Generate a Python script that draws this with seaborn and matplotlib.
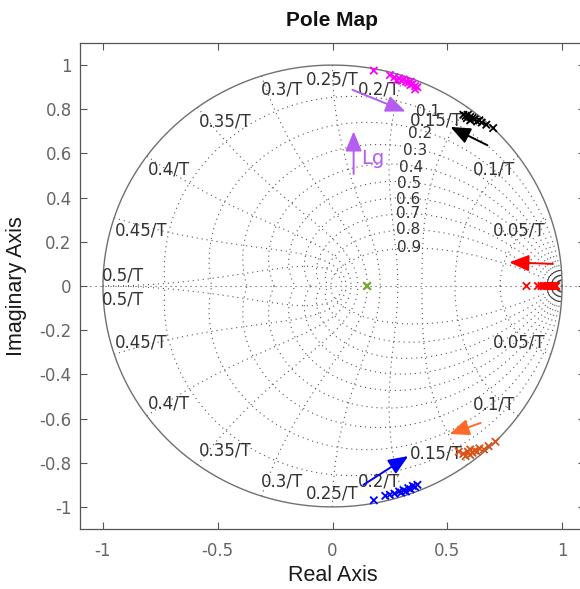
import numpy as np
import pandas as pd
import matplotlib
matplotlib.use("Agg")
import matplotlib.pyplot as plt
import seaborn as sns

# ---------------- data ----------------
magenta_x = [0.18, 0.25, 0.27, 0.28, 0.29, 0.30, 0.31, 0.32, 0.33, 0.34, 0.34, 0.35, 0.36, 0.36, 0.37]
magenta_y = [0.975, 0.955, 0.945, 0.93, 0.94, 0.93, 0.935, 0.925, 0.92, 0.91, 0.925, 0.915, 0.905, 0.89, 0.90]

black_x = [0.57, 0.58, 0.585, 0.59, 0.60, 0.60, 0.61, 0.62, 0.63, 0.64, 0.65, 0.67, 0.70]
black_y = [0.775, 0.77, 0.76, 0.775, 0.765, 0.75, 0.76, 0.755, 0.745, 0.75, 0.74, 0.73, 0.715]

red_x = [0.845, 0.895, 0.91, 0.92, 0.93, 0.94, 0.95, 0.955, 0.96, 0.965, 0.97, 0.975]
red_y = [0.0] * 12

orange_x = [0.55, 0.57, 0.58, 0.59, 0.60, 0.60, 0.61, 0.62, 0.63, 0.64, 0.66, 0.68, 0.71]
orange_y = [-0.75, -0.76, -0.77, -0.75, -0.765, -0.74, -0.755, -0.745, -0.75, -0.735, -0.74, -0.725, -0.705]

blue_x = [0.18, 0.23, 0.25, 0.27, 0.29, 0.30, 0.31, 0.32, 0.33, 0.34, 0.35, 0.36, 0.37]
blue_y = [-0.97, -0.95, -0.945, -0.94, -0.93, -0.935, -0.925, -0.93, -0.915, -0.92, -0.905, -0.91, -0.90]

green_x = [0.15, 0.15, 0.152]
green_y = [0.0, 0.0, 0.0]

group_colors = {"m": "#ff00ff", "k": "#000000", "r": "#ff0000",
                "o": "#d95319", "b": "#0000ff", "g": "#77ac30"}

zeta_values = [0.1, 0.2, 0.3, 0.4, 0.5, 0.6, 0.7, 0.8, 0.9]
wn_labels = ["0.05/T", "0.1/T", "0.15/T", "0.2/T", "0.25/T", "0.3/T",
             "0.35/T", "0.4/T", "0.45/T", "0.5/T"]
x_ticks = [-1, -0.5, 0, 0.5, 1]
y_ticks = [-1, -0.8, -0.6, -0.4, -0.2, 0, 0.2, 0.4, 0.6, 0.8, 1]

# ---------------- figure ----------------
sns.set_theme(style="white")
plt.rcParams["font.family"] = ["Liberation Sans", "DejaVu Sans"]

fig = plt.figure(figsize=(5.80, 5.89), dpi=100)
ax = fig.add_axes([80 / 580, 60 / 589, 505 / 580, 486 / 589])

grid_kw = dict(color="#555555", lw=0.8, ls=(0, (1, 3.5)), zorder=1)

# constant damping curves
th = np.linspace(0, np.pi, 400)
for z in zeta_values:
    r = np.exp(-z / np.sqrt(1 - z ** 2) * th)
    ax.plot(r * np.cos(th), r * np.sin(th), **grid_kw)
    ax.plot(r * np.cos(th), -r * np.sin(th), **grid_kw)

# constant natural-frequency curves
zz = np.linspace(0, 1, 200)
for k in range(1, 11):
    wn = k * 0.1 * np.pi
    r = np.exp(-zz * wn)
    a = wn * np.sqrt(1 - zz ** 2)
    ax.plot(r * np.cos(a), r * np.sin(a), **grid_kw)
    ax.plot(r * np.cos(a), -r * np.sin(a), **grid_kw)
# fine curves near z = 1
zc = np.linspace(0, 1, 6)
for wn in [0.028, 0.05, 0.072]:
    r = np.exp(-zc * wn)
    a = wn * np.sqrt(1 - zc ** 2)
    ax.plot(r * np.cos(a), r * np.sin(a), color="#333333", lw=0.6, zorder=1)
    ax.plot(r * np.cos(a), -r * np.sin(a), color="#333333", lw=0.6, zorder=1)

ax.plot([-1.1, 1.1], [0, 0], **grid_kw)

# unit circle
tt = np.linspace(0, 2 * np.pi, 600)
ax.plot(np.cos(tt), np.sin(tt), color="#707070", lw=1.0, zorder=2)

# grid labels
lab_kw = dict(fontsize=12, family="DejaVu Sans", color="#333333",
              va="center", ha="left", zorder=3)
wn_pos_upper = [(0.70, 0.251), (0.61, 0.529), (0.335, 0.748), (0.109, 0.888),
                (-0.118, 0.937), (-0.314, 0.888), (-0.584, 0.744),
                (-0.806, 0.529), (-0.946, 0.251), (-1.003, 0.049)]
wn_pos_lower_y = [-0.256, -0.536, -0.758, -0.883, -0.94, -0.883, -0.744,
                  -0.534, -0.256, -0.063]
for lab, (x, y), yl in zip(wn_labels, wn_pos_upper, wn_pos_lower_y):
    ax.text(x, y, lab, **lab_kw)
    ax.text(x, yl, lab, **lab_kw)

zeta_kw = dict(lab_kw, fontsize=11)
zeta_pos = [(0.362, 0.792), (0.327, 0.692), (0.305, 0.613), (0.288, 0.535),
            (0.283, 0.465), (0.275, 0.393), (0.275, 0.326), (0.275, 0.254),
            (0.283, 0.176)]
for z, (x, y) in zip(zeta_values, zeta_pos):
    ax.text(x, y, f"{z:g}", **zeta_kw)

# poles
frames = []
for g, xs, ys in [("m", magenta_x, magenta_y), ("k", black_x, black_y),
                  ("r", red_x, red_y), ("o", orange_x, orange_y),
                  ("b", blue_x, blue_y), ("g", green_x, green_y)]:
    frames.append(pd.DataFrame({"re": xs, "im": ys, "grp": g}))
poles = pd.concat(frames, ignore_index=True)
sns.scatterplot(data=poles, x="re", y="im", hue="grp", palette=group_colors,
                marker="x", s=28, linewidth=1.3, legend=False, ax=ax, zorder=4)

# arrows
def arrow(x0, y0, x1, y1, c):
    ax.annotate("", xy=(x1, y1), xytext=(x0, y0),
                arrowprops=dict(arrowstyle="-|>,head_length=0.6,head_width=0.25",
                                color=c, lw=1.4,
                                mutation_scale=20, shrinkA=0, shrinkB=0),
                zorder=5)

arrow(0.087, 0.888, 0.318, 0.79, "#b55cf2")
arrow(0.092, 0.507, 0.092, 0.70, "#b55cf2")
ax.text(0.125, 0.575, "Lg", fontsize=14, family="DejaVu Sans",
        color="#b55cf2", va="center", ha="left")
arrow(0.675, 0.637, 0.514, 0.72, "#000000")
arrow(0.96, 0.10, 0.77, 0.107, "#ff0000")
arrow(0.645, -0.62, 0.51, -0.67, "#ff6a2a")
arrow(0.135, -0.90, 0.33, -0.77, "#0000ff")

# axes styling
ax.set_xlim(-1.1, 1.1)
ax.set_ylim(-1.1, 1.1)
ax.set_xticks(x_ticks)
ax.set_xticklabels([f"{v:g}" for v in x_ticks], family="DejaVu Sans")
ax.set_yticks(y_ticks)
ax.set_yticklabels([f"{v:g}" for v in y_ticks], family="DejaVu Sans")
ax.tick_params(direction="in", length=5, width=0.8, color="#555555",
               labelcolor="#666666", labelsize=12, top=True, right=True,
               bottom=True, left=True)
ax.tick_params(axis="x", pad=9)
ax.tick_params(axis="y", pad=6)
for sp in ax.spines.values():
    sp.set_color("#555555")
    sp.set_linewidth(0.9)
ax.set_xlabel("Real Axis", fontsize=15.5, color="#1a1a1a")
ax.set_ylabel("Imaginary Axis", fontsize=15.5, color="#1a1a1a")
ax.xaxis.set_label_coords(0.5, -0.074)
ax.yaxis.set_label_coords(-0.104, 0.5)
ax.set_title("Pole Map", fontsize=15, fontweight="bold", color="#111111", pad=12)

fig.savefig("out.png", dpi=100)
